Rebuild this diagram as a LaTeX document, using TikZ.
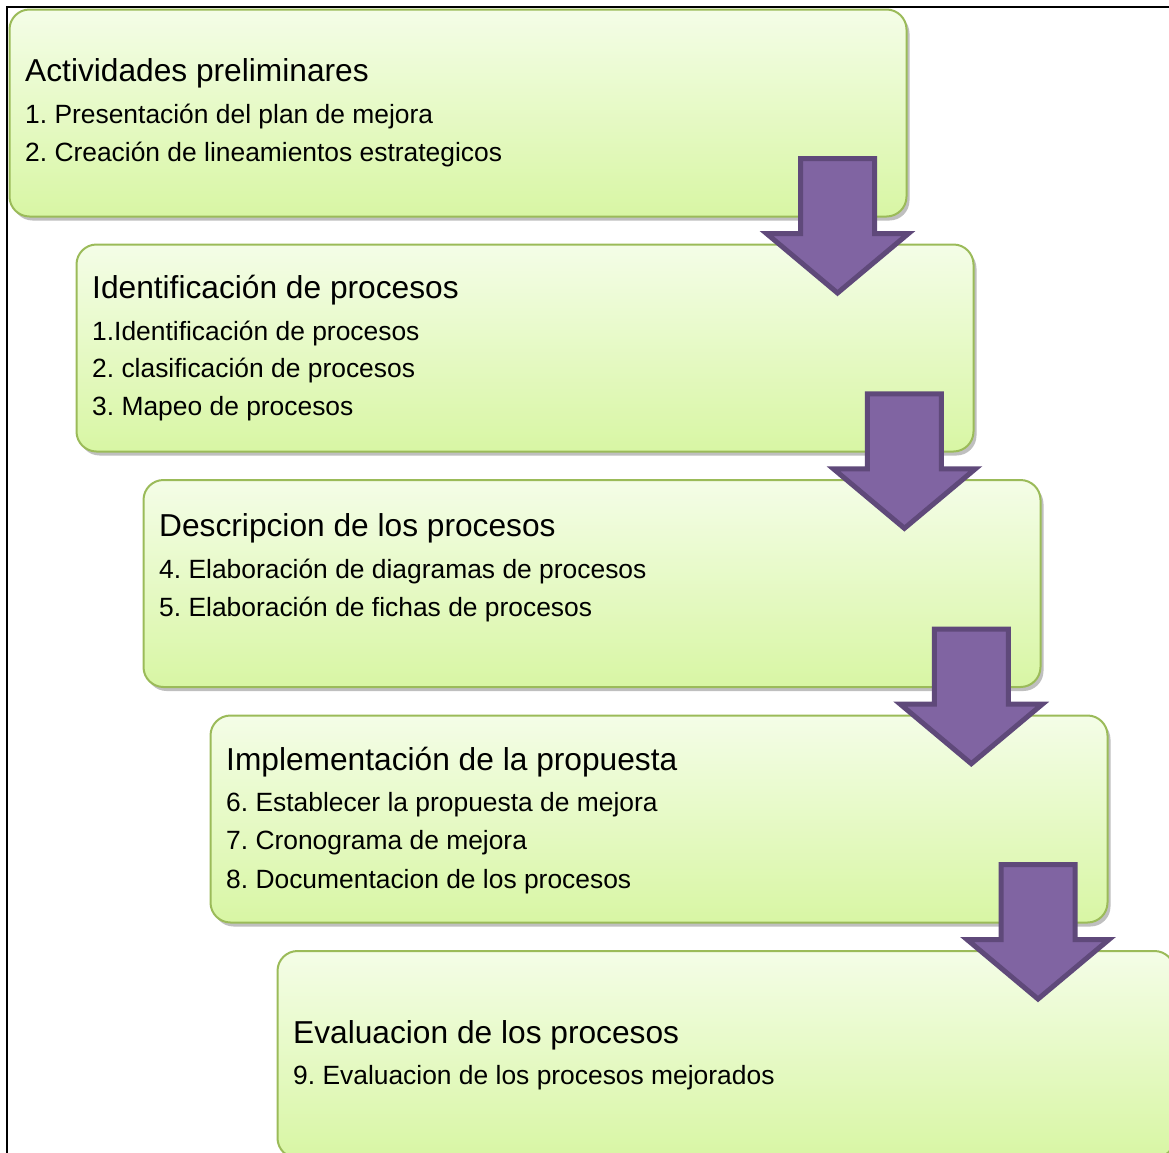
\documentclass[tikz,border=0pt]{standalone}
\usepackage{fontspec}
\setmainfont{Liberation Sans}
\usetikzlibrary{shadows}
\definecolor{boxtop}{HTML}{F4FDE7}
\definecolor{boxbot}{HTML}{D8F6A4}
\definecolor{boxline}{HTML}{9BBB59}
\definecolor{arrfill}{HTML}{8064A2}
\definecolor{arrline}{HTML}{5F497A}
\tikzset{
  stagebox/.style={draw=boxline, line width=2pt, rounded corners=20pt,
    top color=boxtop, bottom color=boxbot,
    minimum width=897pt, minimum height=207pt, anchor=north west, inner sep=0pt,
    drop shadow={shadow xshift=3pt, shadow yshift=-4pt, opacity=0.25, fill=black}},
  stagetitle/.style={anchor=base west, inner sep=0pt, font=\fontsize{31.7}{38}\selectfont},
  stageitem/.style={anchor=base west, inner sep=0pt, font=\fontsize{26.4}{32}\selectfont},
  arrowstyle/.style={fill=arrfill, draw=arrline, line width=5pt, line join=miter},
  bigarrow/.pic={\path[arrowstyle] (-37,2.5) -- (37,2.5) -- (37,77.5) -- (71,77.5) -- (0,137) -- (-71,77.5) -- (-37,77.5) -- cycle;}
}
\begin{document}
\frenchspacing
\begin{tikzpicture}[x=1pt,y=-1pt]
\useasboundingbox (0,0) rectangle (1169,1152);
\clip (0,0) rectangle (1169,1152);
\draw[line width=2pt] (7,7) rectangle (1200,1200);
% boxes
\node[stagebox] (b1) at (8.5,8.5) {};
\node[stagebox] (b2) at (75.5,243.5) {};
\node[stagebox] (b3) at (142.5,479) {};
\node[stagebox] (b4) at (209.5,714.5) {};
\node[stagebox] (b5) at (276.5,950) {};
% texts box 1
\node[stagetitle] (t1) at (25,81) {Actividades preliminares};
\node[stageitem] (t1a) at (25,123) {1. Presentación del plan de mejora};
\node[stageitem] (t1b) at (25,161) {2. Creación de lineamientos estrategicos};
% box 2
\node[stagetitle] (t2) at (92,298) {Identificación de procesos};
\node[stageitem] (t2a) at (92,340) {1.Identificación de procesos};
\node[stageitem] (t2b) at (92,377) {2. clasificación de procesos};
\node[stageitem] (t2c) at (92,415) {3. Mapeo de procesos};
% box 3
\node[stagetitle] (t3) at (159,536) {Descripcion de los procesos};
\node[stageitem] (t3a) at (159,578) {4. Elaboración de diagramas de procesos};
\node[stageitem] (t3b) at (159,616) {5. Elaboración de fichas de procesos};
% box 4
\node[stagetitle] (t4) at (226,770) {Implementación de la propuesta};
\node[stageitem] (t4a) at (226,811) {6. Establecer la propuesta de mejora};
\node[stageitem] (t4b) at (226,849) {7. Cronograma de mejora};
\node[stageitem] (t4c) at (226,888) {8. Documentacion de los procesos};
% box 5
\node[stagetitle] (t5) at (293,1043) {Evaluacion de los procesos};
\node[stageitem] (t5a) at (293,1084) {9. Evaluacion de los procesos mejorados};
% arrows
\pic (a1) at (837.5,156) {bigarrow};
\pic (a2) at (904.4,391.3) {bigarrow};
\pic (a3) at (971.3,626.7) {bigarrow};
\pic (a4) at (1038,862) {bigarrow};
\end{tikzpicture}
\end{document}
